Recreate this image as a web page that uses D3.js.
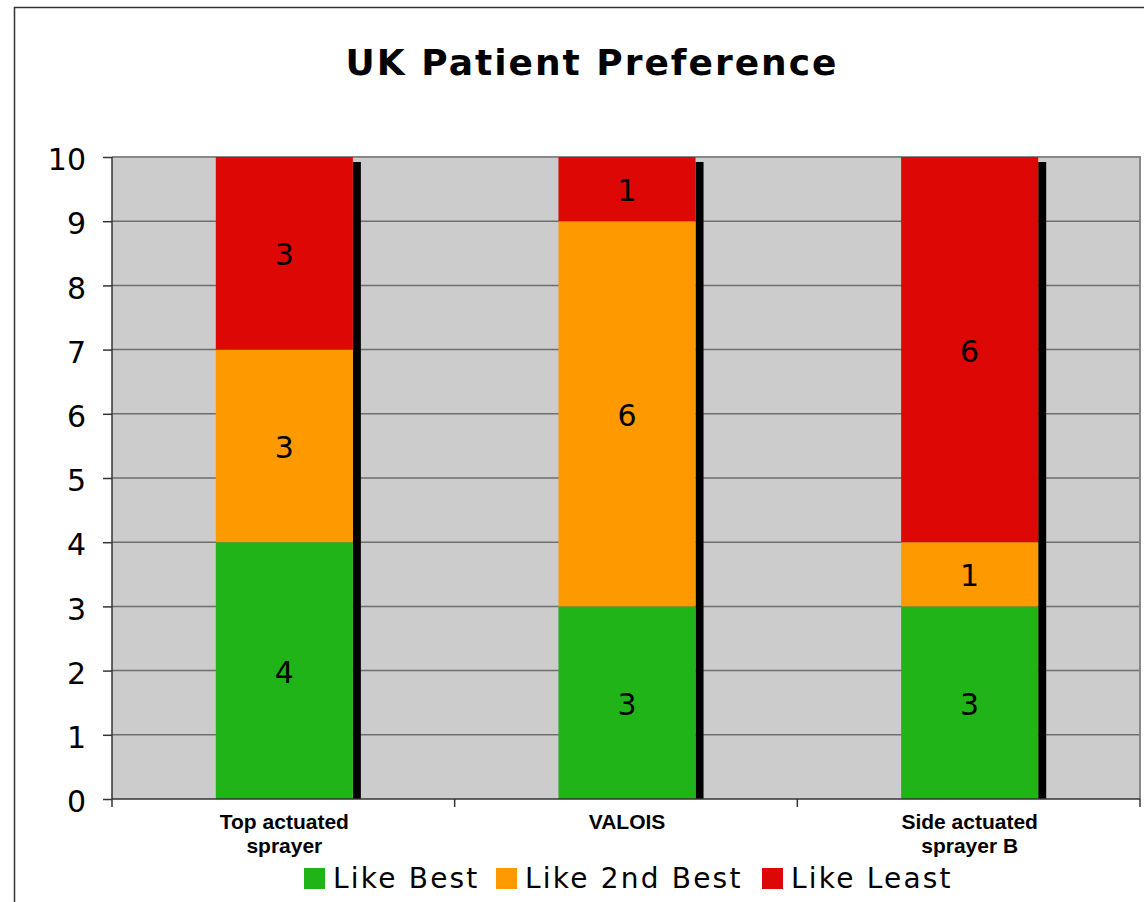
<!DOCTYPE html>
<html>
<head>
<meta charset="utf-8">
<script src="https://cdn.jsdelivr.net/npm/d3@7"></script>
<style>
  body { margin: 0; background: #fff; }
  svg { display: block; }
</style>
</head>
<body>
<div id="chart"></div>
<script>
// Data
const categories = [['Top actuated', 'sprayer'], ['VALOIS'], ['Side actuated', 'sprayer B']];
const seriesNames = ['Like Best', 'Like 2nd Best', 'Like Least'];
const likeBest = [4, 3, 3];
const like2ndBest = [3, 6, 1];
const likeLeast = [3, 1, 6];
const yTicks = [0, 1, 2, 3, 4, 5, 6, 7, 8, 9, 10];
const colors = ['#20b418', '#ff9900', '#dd0806'];

const W = 1144, H = 902;
const plot = {left: 112, top: 157, right: 1140, bottom: 799};

const svg = d3.select('#chart').append('svg')
  .attr('width', W)
  .attr('height', H);

// outer chart border
svg.append('rect')
  .attr('x', 14.5).attr('y', 7.5)
  .attr('width', W + 20).attr('height', H + 20)
  .attr('fill', 'none')
  .attr('stroke', '#333')
  .attr('stroke-width', 1.5);

// title
svg.append('text')
  .attr('x', 592).attr('y', 75)
  .attr('text-anchor', 'middle')
  .style('font-family', 'DejaVu Sans, Verdana, sans-serif')
  .style('font-weight', 'bold')
  .style('font-size', '36px')
  .style('letter-spacing', '2px')
  .text('UK Patient Preference');

const keys = categories.map((c, i) => i);
const x = d3.scaleBand()
  .domain(keys)
  .range([plot.left, plot.right])
  .paddingInner(0)
  .paddingOuter(0);

const y = d3.scaleLinear()
  .domain([0, 10])
  .range([plot.bottom, plot.top]);

// plot background
svg.append('rect')
  .attr('x', plot.left).attr('y', plot.top)
  .attr('width', plot.right - plot.left)
  .attr('height', plot.bottom - plot.top)
  .attr('fill', '#cccccc');

// gridlines
svg.append('g')
  .selectAll('line')
  .data(yTicks.filter(d => d > 0 && d < 10))
  .enter().append('line')
  .attr('x1', plot.left).attr('x2', plot.right)
  .attr('y1', d => y(d)).attr('y2', d => y(d))
  .attr('stroke', '#6e6e6e')
  .attr('stroke-width', 1.5);

// plot top / right border
svg.append('path')
  .attr('d', `M${plot.left},${plot.top}H${plot.right}V${plot.bottom}`)
  .attr('fill', 'none')
  .attr('stroke', '#888')
  .attr('stroke-width', 2);

// stacked data
const table = keys.map(i => ({i: i, b: likeBest[i], s: like2ndBest[i], l: likeLeast[i]}));
const stack = d3.stack().keys(['b', 's', 'l'])(table);

const barW = x.bandwidth() * 0.4;
const barX = i => x(i) + (x.bandwidth() - barW) / 2 + 1;

// shadows
svg.append('g')
  .selectAll('rect')
  .data(table)
  .enter().append('rect')
  .attr('x', d => barX(d.i) + barW)
  .attr('y', d => y(d.b + d.s + d.l) + 5)
  .attr('width', 8)
  .attr('height', d => plot.bottom - y(d.b + d.s + d.l) - 5)
  .attr('fill', '#000');

const layers = svg.append('g')
  .selectAll('g')
  .data(stack)
  .enter().append('g')
  .attr('fill', (d, k) => colors[k]);

layers.selectAll('rect')
  .data(d => d)
  .enter().append('rect')
  .attr('x', d => barX(d.data.i))
  .attr('y', d => y(d[1]))
  .attr('width', barW)
  .attr('height', d => y(d[0]) - y(d[1]));

layers.selectAll('text')
  .data(d => d)
  .enter().append('text')
  .attr('x', d => barX(d.data.i) + barW / 2)
  .attr('y', d => (y(d[0]) + y(d[1])) / 2 + 12)
  .attr('text-anchor', 'middle')
  .attr('fill', '#000')
  .style('font-family', 'DejaVu Sans, Verdana, sans-serif')
  .style('font-size', '30px')
  .text(d => d[1] - d[0]);

// y axis
const yAxis = svg.append('g')
  .attr('transform', `translate(${plot.left},0)`)
  .call(d3.axisLeft(y).tickValues(yTicks).tickSize(9).tickPadding(17));
yAxis.selectAll('path, line').attr('stroke', '#333').attr('stroke-width', 1.5);
yAxis.select('.domain').attr('d', `M0,${plot.top}V${plot.bottom}`);
yAxis.selectAll('text')
  .attr('fill', '#000')
  .attr('dy', '0.42em')
  .style('font-family', 'DejaVu Sans, Verdana, sans-serif')
  .style('font-size', '30px');

// x axis line and ticks between categories
svg.append('line')
  .attr('x1', plot.left).attr('x2', plot.right)
  .attr('y1', plot.bottom).attr('y2', plot.bottom)
  .attr('stroke', '#333').attr('stroke-width', 1.5);
const boundaries = keys.map(i => x(i)).concat([plot.right]);
svg.append('g')
  .selectAll('line')
  .data(boundaries)
  .enter().append('line')
  .attr('x1', d => d).attr('x2', d => d)
  .attr('y1', plot.bottom).attr('y2', plot.bottom + 8)
  .attr('stroke', '#333').attr('stroke-width', 1.5);

// category labels
const catLabels = svg.append('g')
  .selectAll('text')
  .data(keys)
  .enter().append('text')
  .attr('x', i => x(i) + x.bandwidth() / 2 + 1)
  .attr('y', 829)
  .attr('text-anchor', 'middle')
  .style('font-family', 'Liberation Sans, Arial, sans-serif')
  .style('font-weight', 'bold')
  .style('font-size', '21px');
catLabels.selectAll('tspan')
  .data(i => categories[i])
  .enter().append('tspan')
  .attr('x', function() { return d3.select(this.parentNode).attr('x'); })
  .attr('dy', (d, j) => j === 0 ? 0 : 24)
  .text(d => d);

// legend
const legendX = [304, 496, 762];
const legend = svg.append('g')
  .selectAll('g')
  .data(seriesNames)
  .enter().append('g')
  .attr('transform', (d, k) => `translate(${legendX[k]},868)`);
legend.append('rect')
  .attr('width', 21).attr('height', 21)
  .attr('fill', (d, k) => colors[k]);
legend.append('text')
  .attr('x', 29).attr('y', 20)
  .style('font-family', 'DejaVu Sans, Verdana, sans-serif')
  .style('font-size', '28px')
  .style('letter-spacing', '2.2px')
  .text(d => d);
</script>
</body>
</html>
